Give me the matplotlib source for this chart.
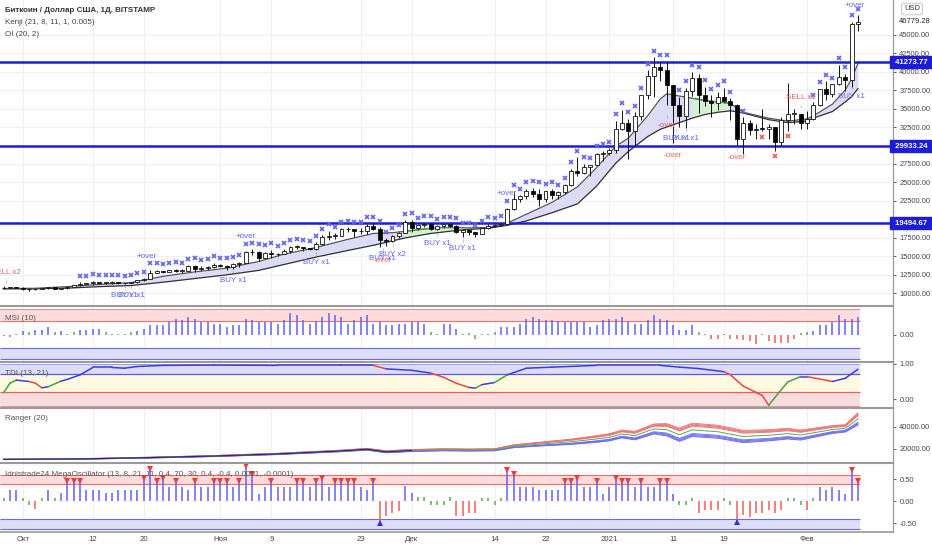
import numpy as np
import matplotlib
matplotlib.use("Agg")
import matplotlib.pyplot as plt
from matplotlib.transforms import blended_transform_factory
from matplotlib.ticker import FuncFormatter

plt.rcParams['font.family'] = ['Liberation Sans', 'DejaVu Sans']

# day 0 = 1 Oct 2020, candles from 28 Sep 2020 (-3) to 9 Feb 2021 (131)
days = np.arange(-3, 132)

opens = [10770, 10700, 10845, 10780, 10620, 10570, 10550, 10670, 10790, 10600,
         10670, 10920, 11060, 11300, 11380, 11550, 11430, 11430, 11500, 11330,
         11370, 11510, 11750, 11920, 12810, 12990, 12940, 13130, 13030, 13070,
         13650, 13280, 13460, 13560, 13800, 13760, 13550, 14030, 14150, 15590,
         15580, 14830, 15480, 15330, 15300, 15700, 16280, 16320, 16070, 15960,
         16720, 17650, 17800, 17820, 18660, 18680, 18400, 18370, 19150, 18730,
         17150, 17140, 17720, 18180, 19700, 18790, 19220, 19440, 18700, 19150,
         19360, 19170, 18320, 18550, 18250, 18040, 18800, 19170, 19270, 19440,
         21350, 22800, 23130, 23870, 23470, 22720, 23820, 23240, 23730, 24700,
         26490, 26280, 27080, 27360, 28880, 28990, 29400, 32200, 33000, 32020,
         34030, 36820, 39370, 40670, 40240, 38240, 35550, 34050, 37390, 39150,
         36830, 36070, 35810, 36630, 36070, 35550, 30830, 32990, 32070, 32300,
         32280, 32500, 30430, 33400, 34300, 34300, 33100, 33550, 35500, 37650,
         36950, 38300, 39240, 38880, 46450]
closes = [10700, 10845, 10780, 10620, 10570, 10550, 10670, 10790, 10600, 10670,
          10920, 11060, 11300, 11380, 11550, 11430, 11430, 11500, 11330, 11370,
          11510, 11750, 11920, 12810, 12990, 12940, 13130, 13030, 13070, 13650,
          13280, 13460, 13560, 13800, 13760, 13550, 14030, 14150, 15590, 15580,
          14830, 15480, 15330, 15300, 15700, 16280, 16320, 16070, 15960, 16720,
          17650, 17800, 17820, 18660, 18680, 18400, 18370, 19150, 18730, 17150,
          17140, 17720, 18180, 19700, 18790, 19220, 19440, 18700, 19150, 19360,
          19170, 18320, 18550, 18250, 18040, 18800, 19170, 19270, 19440, 21350,
          22800, 23130, 23870, 23470, 22720, 23820, 23240, 23730, 24700, 26490,
          26280, 27080, 27360, 28880, 28990, 29400, 32200, 33000, 32020, 34030,
          36820, 39370, 40670, 40240, 38240, 35550, 34050, 37390, 39150, 36830,
          36070, 35810, 36630, 36070, 35550, 30830, 32990, 32070, 32300, 32280,
          32500, 30430, 33400, 34300, 34300, 33100, 33550, 35500, 37650, 36950,
          38300, 39240, 38880, 46450, 46779.28]
highs = [10950, 10860, 10850, 10920, 10680, 10600, 10700, 10800, 10800, 10690,
         10960, 11120, 11480, 11440, 11720, 11560, 11550, 11630, 11540, 11400,
         11530, 11820, 12030, 13220, 13180, 13030, 13170, 13340, 13250, 13790,
         13860, 13640, 13690, 14100, 13900, 13820, 14070, 14260, 15770, 15970,
         15770, 15650, 15840, 15460, 15960, 16350, 16480, 16330, 16140, 16880,
         17850, 18480, 18120, 18800, 18950, 18700, 18770, 19420, 19480, 18920,
         17450, 17890, 18330, 19860, 19920, 19300, 19560, 19520, 19180, 19420,
         19420, 19300, 18640, 18560, 18280, 18950, 19410, 19350, 19550, 21560,
         23800, 23280, 24170, 24300, 24100, 23840, 24100, 23780, 24770, 26870,
         28400, 27500, 27400, 29000, 29300, 29600, 33300, 34800, 33600, 34500,
         36900, 40200, 41950, 41350, 41350, 38240, 36600, 37850, 40000, 39700,
         37900, 36800, 37300, 37850, 36400, 35600, 33800, 33450, 32900, 34900,
         32900, 32550, 33800, 38500, 34900, 34300, 34700, 35900, 37700, 38700,
         38300, 40900, 39700, 46750, 47600]
lows = [10640, 10650, 10660, 10440, 10370, 10500, 10530, 10620, 10530, 10560,
        10530, 10830, 11050, 11250, 11180, 11240, 11280, 11290, 11220, 11310,
        11350, 11420, 11690, 11900, 12700, 12730, 12880, 12910, 12800, 13060,
        12950, 12990, 13120, 13430, 13620, 13220, 13300, 13540, 14090, 15200,
        14350, 14720, 14810, 15080, 15280, 15450, 15970, 15700, 15870, 15880,
        16540, 17220, 17350, 17760, 18340, 17620, 18000, 18060, 18570, 16200,
        16450, 16900, 17520, 18180, 18330, 18520, 18920, 18570, 18530, 18870,
        18920, 18210, 17650, 17910, 17570, 18020, 18710, 19000, 19050, 19300,
        21230, 22350, 22770, 23080, 21830, 22380, 22720, 22700, 23440, 24500,
        25830, 26100, 25900, 27320, 27850, 28700, 28950, 32050, 28130, 29900,
        33450, 36300, 36600, 38750, 35500, 30400, 32550, 32400, 36700, 34400,
        35400, 33900, 34800, 35900, 33400, 30100, 28800, 31400, 30900, 31900,
        30850, 29250, 29900, 31950, 32900, 32300, 32300, 33450, 35400, 36200,
        36600, 38200, 37400, 37950, 45500]

# Kenji band
kenji_days = [-3, 2, 7, 12, 17, 22, 27, 32, 37, 41, 46, 51, 55, 58, 60, 62, 64, 66, 68, 70,
              73, 76, 79, 83, 87, 90, 93, 95, 98, 100, 101, 103, 105, 107, 109, 111, 113,
              117, 120, 123, 124, 127, 129, 130, 131]
kenji_fast = [10650, 10680, 10900, 11200, 11450, 12300, 12900, 13400, 14300, 15300, 16200,
              17300, 18100, 18200, 18400, 18600, 18800, 18900, 18900, 18850, 18900, 19500,
              20700, 22300, 24400, 27000, 29900, 31000, 34000, 36300, 37000, 36700, 36400,
              36100, 35900, 35700, 34500, 33700, 33300, 33600, 34000, 35600, 37500, 39000, 41100]
kenji_slow = [10600, 10620, 10700, 10900, 11050, 11500, 12000, 12500, 13100, 13900, 14900,
              15800, 16500, 17100, 17500, 17800, 18100, 18300, 18500, 18650, 18800, 19200,
              19800, 20900, 22100, 24500, 27600, 29200, 31200, 32200, 32500, 33100, 33700,
              34200, 34500, 34700, 34400, 33500, 33100, 33300, 33700, 34600, 35900, 36600, 37700]

levels = [41273.77, 29933.24, 19494.67]

over_days = list(range(9, 102)) + list(range(103, 112)) + [113] + list(range(124, 132))
under_days = [116, 118, 120]

label_text = ["SELL x2", "BUY x1", "BUY x1", "+over", "BUY x1", "+over", "BUY x1", "-over",
              "BUY x1", "BUY x2", "BUY x1", "BUY x1", "+over", "-over", "BUY x1", "BUY x1",
              "-over", "-over", "SELL x2", "BUY x1", "+over"]
label_day = [-2.6, 16, 17, 19.5, 33, 35, 46, 56.5, 56.5, 58, 65, 69, 76, 101, 102.5, 104,
             102, 112, 122, 130, 130.5]
label_price = [12770, 9650, 9650, 15000, 11700, 17650, 14150, 14400, 14700, 15250, 16800,
               16000, 23550, 32700, 30900, 30900, 28600, 28400, 36450, 36600, 48900]

msi = [-0.05, -0.07, 0.02, 0.15, 0.10, 0.17, 0.17, 0.27, 0.11, 0.14,
       0.02, 0.09, 0.17, 0.17, 0.20, 0.20, 0.10, 0.02, 0.02, 0.04,
       0.10, 0.14, 0.20, 0.36, 0.36, 0.36, 0.46, 0.58, 0.54, 0.67,
       0.59, 0.48, 0.46, 0.40, 0.40, 0.30, 0.36, 0.36, 0.59, 0.54,
       0.48, 0.48, 0.48, 0.40, 0.54, 0.79, 0.73, 0.54, 0.40, 0.51,
       0.67, 0.79, 0.73, 0.67, 0.40, 0.54, 0.67, 0.73, 0.40, 0.46,
       0.36, 0.36, 0.40, 0.40, 0.46, 0.46, 0.40, 0.11, 0.02, 0.40,
       0.40, 0.20, 0.02, 0.05, -0.17, 0.02, 0.02, 0.09, 0.27, 0.27,
       0.27, 0.40, 0.59, 0.67, 0.59, 0.54, 0.54, 0.52, 0.46, 0.46,
       0.46, 0.46, 0.30, 0.36, 0.54, 0.59, 0.59, 0.67, 0.48, 0.40,
       0.40, 0.54, 0.73, 0.59, 0.54, 0.36, 0.17, 0.17, 0.36, 0.09,
       0.01, -0.17, -0.17, 0.04, -0.17, -0.17, -0.20, -0.25, -0.35, 0.02,
       -0.25, -0.30, -0.32, -0.30, -0.17, 0.05, 0.09, 0.15, 0.36, 0.36,
       0.48, 0.73, 0.59, 0.59, 0.67]

tdi_days = [-3, -2, -1, 1, 2, 3, 4, 6, 7, 9, 11, 14, 16, 18, 22, 30, 40, 50, 55, 57, 61, 64,
            66, 68, 70, 71, 72, 74, 76, 79, 83, 90, 100, 103, 106, 110, 111, 113, 116, 117,
            118, 120, 122, 123, 127, 129, 131]
tdi = [0.18, 0.45, 0.54, 0.50, 0.45, 0.32, 0.35, 0.51, 0.56, 0.69, 0.90, 0.90, 0.88, 0.93,
       0.96, 0.97, 0.96, 0.96, 0.96, 0.86, 0.82, 0.74, 0.62, 0.45, 0.33, 0.31, 0.41, 0.47,
       0.69, 0.88, 0.91, 0.96, 0.96, 0.91, 0.87, 0.78, 0.69, 0.37, 0.10, -0.18, 0.05, 0.49,
       0.64, 0.64, 0.50, 0.59, 0.85]

ranger_days = [-3, 10, 20, 30, 40, 50, 54, 57, 61, 66, 70, 74, 77, 82, 86, 90, 92, 94, 96, 99,
               101, 103, 105, 109, 113, 117, 120, 122, 127, 129, 131]
ranger_mid = [10700, 11200, 12300, 13700, 15600, 18300, 19800, 17500, 18700, 19300, 19100,
              19300, 22500, 24800, 26500, 29000, 30500, 33500, 32000, 38000, 37300, 32800,
              37200, 35500, 31200, 32300, 33800, 32500, 37500, 38500, 47000]
ranger_hw = [250, 300, 400, 500, 600, 700, 800, 900, 900, 900, 900, 900, 1300, 1800, 2400,
             3000, 3200, 3500, 3800, 4500, 5500, 6000, 6000, 5800, 5500, 5000, 4800, 4500,
             3500, 3300, 5500]

mega = [0.07, 0.26, 0.26, 0.08, -0.08, -0.18, 0.08, 0.26, 0.08, 0.18,
        0.45, 0.45, 0.45, 0.26, 0.26, 0.26, 0.18, 0.18, 0.26, 0.26,
        0.26, 0.26, 0.52, 0.71, 0.45, 0.52, 0.33, 0.45, 0.33, 0.26,
        0.45, 0.33, 0.33, 0.45, 0.45, 0.45, 0.33, 0.45, 0.79, 0.60,
        0.17, 0.33, 0.45, 0.33, 0.33, 0.33, 0.45, 0.45, 0.33, 0.45,
        0.52, 0.33, 0.45, 0.45, 0.45, 0.45, 0.33, 0.26, 0.45, -0.52,
        -0.33, -0.27, -0.23, 0.35, 0.18, 0.09, 0.09, -0.09, -0.09, -0.09,
        0.09, -0.33, -0.33, -0.26, -0.27, 0.08, 0.08, -0.09, 0.08, 0.70,
        0.60, 0.33, 0.33, 0.33, 0.26, 0.26, 0.26, 0.26, 0.45, 0.45,
        0.52, 0.33, 0.33, 0.45, 0.17, 0.33, 0.52, 0.45, 0.45, 0.33,
        0.45, 0.33, 0.33, 0.45, 0.45, 0.17, -0.09, -0.09, 0.08, -0.27,
        -0.20, -0.20, -0.20, 0.08, -0.09, -0.50, -0.31, -0.36, -0.27, -0.27,
        -0.20, -0.27, -0.20, 0.08, 0.08, -0.09, -0.20, 0.08, 0.33, 0.26,
        0.33, 0.26, 0.17, 0.70, 0.45]

tick_days = [0, 11, 19, 31, 39, 53, 61, 74, 82, 92, 102, 110, 123]
tick_names = ["Окт", "12", "20", "Ноя", "9", "23", "Дек", "14", "22", "2021", "11", "19", "Фев"]

# price ticks that stay visible next to the level boxes
price_ticks = [10000, 12500, 15000, 17500, 22500, 25000, 27500, 32500, 35000, 37500,
               40000, 42500, 45000]

BLUE = '#6262f0'
RED = '#f05c5c'
GREEN = '#5aa85a'
LINE_BLUE = '#1c1cd9'
GRID = '#eef0f6'
SEP = '#9a9a9a'

W, H = 932, 550
fig = plt.figure(figsize=(W / 100, H / 100), dpi=100)
fig.patch.set_facecolor('white')


def panel(top, bottom):
    return fig.add_axes([0, 1 - bottom / H, 893 / W, (bottom - top) / H])


ax_p = panel(0, 306)
ax_m = panel(306, 362)
ax_t = panel(362, 408)
ax_r = panel(408, 463)
ax_o = panel(463, 532)

xmax_band = 131.3
for ax in (ax_p, ax_m, ax_t, ax_r, ax_o):
    ax.set_xlim(-3.56, 136.5)
    ax.set_xticks(tick_days)
    ax.grid(axis='x', color=GRID, lw=0.8)
    ax.set_axisbelow(True)
    ax.tick_params(axis='x', length=0, labelbottom=False)
    ax.yaxis.tick_right()
    ax.tick_params(axis='y', labelsize=5.4, colors='#444', length=2.5, width=0.6, pad=2)
    ax.yaxis.set_major_formatter(FuncFormatter(lambda v, p: f'{v:.2f}'))
    ax.spines['left'].set_visible(False)
    ax.spines['bottom'].set_visible(False)
    ax.spines['top'].set_color(SEP)
    ax.spines['top'].set_linewidth(1.5)
    ax.spines['right'].set_color(SEP)
    ax.spines['right'].set_linewidth(0.9)
ax_p.spines['top'].set_visible(False)

# ---------- price panel ----------
ax_p.set_ylim(8281, 49694)
ax_p.set_yticks(price_ticks)
ax_p.grid(axis='y', color=GRID, lw=0.8)

kd = np.array(kenji_days)
kf = np.array(kenji_fast)
ks = np.array(kenji_slow)
ax_p.fill_between(kd, kf, ks, color='#dcdcf6', lw=0, zorder=1)
green = ((kd >= 60) & (kd <= 68)) | ((kd >= 105) & (kd <= 111))
ax_p.fill_between(kd, kf, ks, where=green, color='#d6f0d2', lw=0, zorder=1.1)
ax_p.plot(kd, ks, color='#333333', lw=0.9, zorder=2)
ax_p.plot(kd, kf, color='#555555', lw=0.9, zorder=2)
for lo, hi in ((60, 68), (105, 111)):
    m = (kd >= lo) & (kd <= hi)
    ax_p.plot(kd[m], kf[m], color='#4a9a4a', lw=0.9, zorder=2.1)

for lv in levels:
    ax_p.axhline(lv, color=LINE_BLUE, lw=1.8, zorder=2.5)

o = np.array(opens, dtype=float)
c = np.array(closes, dtype=float)
hi_ = np.array(highs, dtype=float)
lo_ = np.array(lows, dtype=float)
ax_p.vlines(days, lo_, hi_, color='#111111', lw=0.7, zorder=3)
body_h = np.maximum(np.abs(c - o), 60)
face = np.where(c >= o, 'white', 'black')
ax_p.bar(days, body_h, bottom=np.minimum(o, c), width=0.62, color=face,
         edgecolor='#111111', linewidth=0.6, zorder=3.5)

ov = np.array(over_days) + 3
ax_p.plot(days[ov], hi_[ov] + 900, 'x', color=BLUE, ms=3.4, mew=1.2, zorder=4)
un = np.array(under_days) + 3
ax_p.plot(days[un], lo_[un] - 700, 'x', color=RED, ms=3.4, mew=1.2, zorder=4)

for t, d, pr in zip(label_text, label_day, label_price):
    col = BLUE if (t.startswith('BUY') or t.startswith('+')) else RED
    ax_p.text(d, pr, t, color=col, fontsize=5.8, ha='center', va='center',
              zorder=5, clip_on=True)
    if t.startswith('BUY') or t.startswith('-'):
        ax_p.annotate('↑', (d, pr), xytext=(0, 5.5), textcoords='offset points',
                      color=col, fontsize=4.5, ha='center', va='center', zorder=5,
                      annotation_clip=True)
    elif t.startswith('SELL'):
        ax_p.annotate('↓', (d, pr), xytext=(0, -6), textcoords='offset points',
                      color=col, fontsize=4.5, ha='center', va='center', zorder=5,
                      annotation_clip=False, clip_on=True)

bt = blended_transform_factory(ax_p.transAxes, ax_p.transData)
for lv in levels:
    ax_p.text(1.0, lv, f' {lv:.2f} ', transform=bt, ha='left', va='center',
              color='white', fontsize=5.6, fontweight='bold', zorder=10, clip_on=False,
              bbox=dict(boxstyle='square,pad=0.35', fc=LINE_BLUE, ec=LINE_BLUE))
ax_p.text(1.006, closes[-1], f'{closes[-1]:.2f}', transform=bt, ha='left', va='center',
          color='#222', fontsize=5.4, zorder=10, clip_on=False)
fig.text(912 / W, 1 - 9 / H, 'USD', ha='center', va='center', fontsize=5.5, color='#333',
         bbox=dict(boxstyle='round,pad=0.3', fc='white', ec='#bbbbbb', lw=0.6), zorder=20)

fig.text(5 / W, 1 - 10 / H, 'Биткоин / Доллар США, 1Д, BITSTAMP', fontsize=5.8,
         fontweight='bold', color='#333', va='center')
fig.text(5 / W, 1 - 22 / H, 'Kenji (21, 8, 11, 1, 0.005)', fontsize=5.8, color='#444', va='center')
fig.text(5 / W, 1 - 34 / H, 'OI (20, 2)', fontsize=5.8, color='#444', va='center')

# ---------- MSI ----------
ax_m.set_ylim(-1.01, 1.063)
ax_m.set_yticks([0])
ax_m.fill_between([-3.56, xmax_band], 0.5, 0.95, color='#fcdcdc', lw=0)
ax_m.hlines([0.5], -3.56, xmax_band, color='#f07070', lw=0.8)
ax_m.hlines([0.95], -3.56, xmax_band, color='#d09a9a', lw=0.8)
ax_m.fill_between([-3.56, xmax_band], -0.5, -0.9, color='#dedef8', lw=0)
ax_m.hlines([-0.5, -0.9], -3.56, xmax_band, color='#6a6ae6', lw=0.8)
mv = np.array(msi)
mcol = np.where(mv < 0, RED, np.where(mv < 0.12, GREEN, BLUE))
ax_m.vlines(days, 0, mv, colors=mcol, lw=1.1)
ax_m.text(0.006, 0.78, 'MSI (10)', transform=ax_m.transAxes, fontsize=5.8, color='#555',
          va='center')

# ---------- TDI ----------
ax_t.set_ylim(-0.257, 1.057)
ax_t.set_yticks([0, 1])
ax_t.fill_between([-3.56, xmax_band], 0.7, 1.0, color='#dcdcf8', lw=0)
ax_t.fill_between([-3.56, xmax_band], 0.2, 0.7, color='#fdfadf', lw=0)
ax_t.fill_between([-3.56, xmax_band], -0.2, 0.2, color='#fcdcdc', lw=0)
ax_t.hlines([0.7], -3.56, xmax_band, color='#5a5ae6', lw=0.9)
ax_t.hlines([1.0], -3.56, xmax_band, color='#a0a0e0', lw=0.7)
ax_t.hlines([0.2], -3.56, xmax_band, color='#f06060', lw=0.9)
ax_t.hlines([-0.2], -3.56, xmax_band, color='#d09a9a', lw=0.7)
for i in range(len(tdi) - 1):
    slope = (tdi[i + 1] - tdi[i]) / (tdi_days[i + 1] - tdi_days[i])
    if slope < -0.03:
        col = '#e84848'
    elif slope > 0.03 and tdi[i] < 0.5:
        col = '#4aa04a'
    else:
        col = '#3c3ce0'
    ax_t.plot(tdi_days[i:i + 2], tdi[i:i + 2], color=col, lw=1.1, solid_capstyle='round')
ax_t.text(0.006, 0.76, 'TDI (13, 21)', transform=ax_t.transAxes, fontsize=5.8, color='#555',
          va='center')

# ---------- Ranger ----------
ax_r.set_ylim(7443, 56770)
ax_r.set_yticks([20000, 40000])
rd = np.array(ranger_days)
rm = np.array(ranger_mid, dtype=float)
rh = np.array(ranger_hw, dtype=float)
ax_r.fill_between(rd, rm + 0.55 * rh, rm + rh, color='#f7c8c8', lw=0, alpha=0.8)
ax_r.fill_between(rd, rm - 0.55 * rh, rm - rh, color='#c8c8f7', lw=0, alpha=0.8)
for k in (0.55, 0.7, 0.85, 1.0):
    ax_r.plot(rd, rm + k * rh, color='#ee7070', lw=0.6)
    ax_r.plot(rd, rm - k * rh, color='#6a6af0', lw=0.6)
ax_r.plot(rd, rm, color='#5aa85a', lw=0.7)
ax_r.plot(rd[:9], rm[:9], color='#2a2a70', lw=0.8)
ax_r.text(0.006, 0.8, 'Ranger (20)', transform=ax_r.transAxes, fontsize=5.8, color='#555',
          va='center')

# ---------- MegaOscillator ----------
ax_o.set_ylim(-0.698, 0.870)
ax_o.set_yticks([-0.5, 0, 0.5])
ax_o.fill_between([-3.56, xmax_band], 0.4, 0.6, color='#fcdcdc', lw=0)
ax_o.hlines([0.4, 0.6], -3.56, xmax_band, color='#f06a6a', lw=0.8)
ax_o.fill_between([-3.56, xmax_band], -0.4, -0.62, color='#dedef8', lw=0)
ax_o.hlines([-0.4, -0.62], -3.56, xmax_band, color='#6a6ae6', lw=0.8)
ov_ = np.array(mega)
ocol = np.where(ov_ <= -0.15, RED, np.where(ov_ < 0.15, GREEN, BLUE))
ax_o.vlines(days, 0, ov_, colors=ocol, lw=1.1)
top = ov_ >= 0.4
ax_o.plot(days[top], ov_[top] + 0.02, 'v', color='#f03a3a', ms=4.2, mew=0)
bot = ov_ <= -0.4
ax_o.plot(days[bot], ov_[bot] + 0.02, '^', color='#2f2fd8', ms=4.2, mew=0)
ax_o.text(0.006, 0.83, 'Idnistrade24 MegaOscillator (13, 8, 21, 11, 0.4, 70, 30, 0.4, -0.4, 0.0001, -0.0001)',
          transform=ax_o.transAxes, fontsize=5.8, color='#555', va='center')
ax_o.spines['bottom'].set_visible(True)
ax_o.spines['bottom'].set_color(SEP)
ax_o.spines['bottom'].set_linewidth(1.2)
ax_o.tick_params(axis='x', labelbottom=True, labelsize=5.6, colors='#444', pad=3)
ax_o.set_xticklabels(tick_names)

fig.savefig('out.png', dpi=100, facecolor='white')
